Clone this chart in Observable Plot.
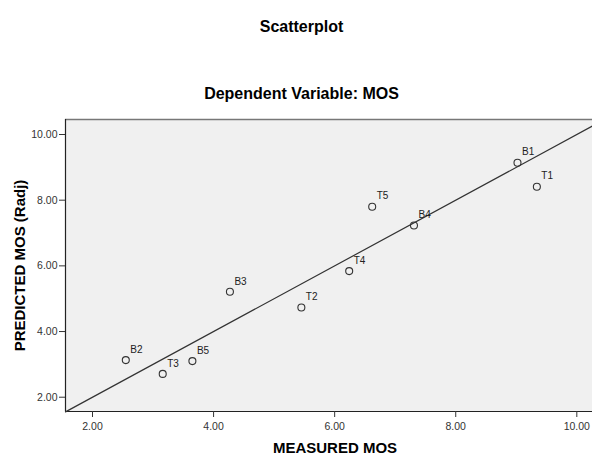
<!DOCTYPE html>
<html><head><meta charset="utf-8">
<script src="https://cdn.jsdelivr.net/npm/d3@7"></script>
<script src="https://cdn.jsdelivr.net/npm/@observablehq/plot@0.6"></script>
<style>
body{margin:0;background:#fff;font-family:"Liberation Sans",Arial,sans-serif;}
#wrap{position:relative;width:592px;height:455px;overflow:hidden;}
.t{position:absolute;left:0;width:603px;text-align:center;font-weight:bold;color:#000;font-size:16px;line-height:16px;white-space:nowrap;}
#chart{position:absolute;left:0;top:110px;}
</style></head><body>
<div id="wrap">
<div class="t" style="top:18.5px">Scatterplot</div>
<div class="t" style="top:85.5px">Dependent Variable: MOS</div>
<div id="chart"></div>
</div>
<script>
const labels = ["B1","T1","T5","B4","T4","B3","T2","B2","T3","B5"];
const measured = [9.02, 9.34, 6.62, 7.31, 6.24, 4.27, 5.45, 2.55, 3.16, 3.65];
const predicted = [9.14, 8.41, 7.80, 7.23, 5.84, 5.21, 4.73, 3.13, 2.71, 3.10];
const xTicks = [2, 4, 6, 8, 10];
const yTicks = [2, 4, 6, 8, 10];
const xDomain = [1.554, 10.259];
const yDomain = [1.565, 10.457];

const data = labels.map((l, i) => ({label: l, x: measured[i], y: predicted[i]}));
const fmt = d3.format(".2f");

const chart = Plot.plot({
  width: 592,
  height: 345,
  marginLeft: 65,
  marginRight: 0,
  marginTop: 9,
  marginBottom: 44,
  style: {fontFamily: '"Liberation Sans", Arial, sans-serif', background: "transparent"},
  x: {domain: xDomain},
  y: {domain: yDomain},
  marks: [
    Plot.frame({fill: "#f0f0f0", stroke: "none"}),
    Plot.ruleY([yDomain[1]], {stroke: "#777", strokeWidth: 1.6}),
    Plot.ruleY([yDomain[0]], {stroke: "#222", strokeWidth: 1.2}),
    Plot.ruleX([xDomain[0]], {stroke: "#222", strokeWidth: 1.2}),
    Plot.line(xDomain, {x: d => d, y: d => d, stroke: "#333", strokeWidth: 1.2}),
    Plot.axisX({ticks: xTicks, tickFormat: fmt, tickSize: 6, tickPadding: 5, fontSize: 10.5, label: null, color: "#333"}),
    Plot.axisY({ticks: yTicks, tickFormat: fmt, tickSize: 6, tickPadding: 2, fontSize: 10.5, label: null, color: "#333"}),
    Plot.dot(data, {x: "x", y: "y", r: 3.5, stroke: "#333", strokeWidth: 1.1, fill: "none"}),
    Plot.text(data, {x: "x", y: "y", text: "label", dx: 4.5, dy: -10.5, textAnchor: "start", lineAnchor: "middle", fontSize: 10, fill: "#222"}),
    Plot.text(["MEASURED MOS"], {frameAnchor: "bottom", textAnchor: "middle", lineAnchor: "middle", dx: 6, dy: 37, fontSize: 15, fontWeight: "bold", fill: "#000"}),
    Plot.text(["PREDICTED MOS (Radj)"], {frameAnchor: "left", textAnchor: "middle", lineAnchor: "middle", rotate: -90, dx: -45, fontSize: 15, fontWeight: "bold", fill: "#000"})
  ]
});
document.getElementById("chart").appendChild(chart);
</script>
</body></html>
